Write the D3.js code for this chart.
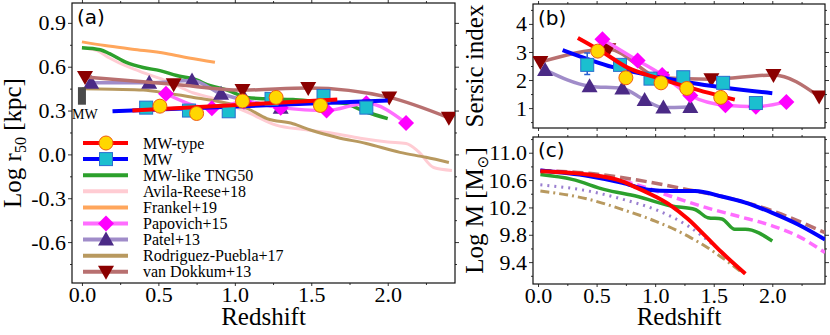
<!DOCTYPE html>
<html>
<head>
<meta charset="utf-8">
<script src="https://cdn.jsdelivr.net/npm/d3@7"></script>
<style>
  body { margin: 0; background: #fff; }
  text { font-family: "Liberation Serif", "Times New Roman", serif; fill: #000; }
</style>
</head>
<body>
<svg width="830" height="335"></svg>
<script>
// ---------- data: panel (a) Log r50 ----------
const mwTypeZ = [0.51, 0.75, 1.05, 1.27, 1.56];
const mwTypeR50 = [0.33, 0.28, 0.365, 0.39, 0.335];
const mwTypeFitZ = [0.33, 1.67];
const mwTypeFitR50 = [0.30, 0.375];

const mwZ = [0.42, 0.70, 0.96, 1.24, 1.58, 1.86];
const mwR50 = [0.32, 0.30, 0.295, 0.38, 0.40, 0.32];
const mwFitZ = [0.20, 2.00];
const mwFitR50 = [0.295, 0.368];

const tngZ = [0.0, 0.12, 0.18, 0.29, 0.40, 0.51, 0.62, 0.73, 0.84, 0.95, 1.08, 1.2, 1.38, 1.55, 1.71, 1.86, 2.0];
const tngR50 = [0.73, 0.716, 0.69, 0.63, 0.595, 0.573, 0.54, 0.516, 0.47, 0.44, 0.39, 0.38, 0.375, 0.36, 0.35, 0.29, 0.245];

const avilaZ = [0.0, 0.10, 0.18, 0.30, 0.40, 0.51, 0.62, 0.73, 0.84, 0.95, 1.10, 1.27, 1.45, 1.64, 1.82, 2.0, 2.12, 2.20, 2.30, 2.42];
const avilaR50 = [0.73, 0.71, 0.66, 0.60, 0.56, 0.52, 0.47, 0.42, 0.39, 0.345, 0.28, 0.20, 0.17, 0.145, 0.11, 0.085, 0.075, 0.02, -0.09, -0.11];

const frankelZ = [0.0, 0.15, 0.33, 0.55, 0.70, 0.87];
const frankelR50 = [0.77, 0.745, 0.72, 0.69, 0.66, 0.63];

const papZ = [0.55, 0.85, 1.06, 1.30, 1.60, 1.86, 2.12];
const papR50 = [0.415, 0.315, 0.36, 0.32, 0.30, 0.35, 0.215];

const patelZ = [0.06, 0.44, 0.72, 0.91, 1.07, 1.30];
const patelR50 = [0.49, 0.49, 0.505, 0.415, 0.37, 0.32];

const rpZ = [0.0, 0.2, 0.4, 0.55, 0.73, 0.9, 1.08, 1.21, 1.38, 1.5, 1.67, 1.86, 2.08, 2.25, 2.4];
const rpR50 = [0.45, 0.445, 0.44, 0.42, 0.39, 0.36, 0.315, 0.245, 0.21, 0.165, 0.116, 0.075, 0.014, -0.02, -0.055];

const vdZ = [0.02, 0.60, 1.05, 1.48, 2.01, 2.40];
const vdR50 = [0.53, 0.48, 0.44, 0.455, 0.39, 0.25];

const mwBarR50 = [0.34, 0.46];

// ---------- data: panel (b) Sersic index ----------
const mwTypeN = [3.03, 2.08, 1.90, 1.70, 1.38];
const mwTypeFitNZ = [0.34, 0.55, 0.76, 1.04, 1.30, 1.68];
const mwTypeFitN = [3.5, 3.0, 2.45, 2.05, 1.72, 1.30];
const mwN = [2.54, 2.54, 2.05, 2.10, 1.90, 1.18];
const mwNErr = [2.2, 2.96];
const mwFitNZ = [0.21, 0.64, 1.04, 1.30, 2.0];
const mwFitN = [3.07, 2.46, 2.10, 1.90, 1.53];
const papN = [3.45, 2.70, 2.18, 1.45, 1.10, 1.05, 1.22];
const patelN = [2.36, 1.78, 1.70, 1.29, 1.02, 1.04];
const vdN = [2.64, 3.10, 2.08, 2.03, 2.18, 1.41];

// ---------- data: panel (c) Log M ----------
const mRedZ = [0.02, 0.43, 0.72, 0.84, 1.0, 1.14, 1.28, 1.43, 1.57, 1.77];
const mRed = [10.73, 10.68, 10.58, 10.49, 10.36, 10.22, 10.03, 9.78, 9.54, 9.23];
const mBlueZ = [0.02, 0.43, 0.72, 0.94, 1.14, 1.34, 1.57, 1.77, 2.0, 2.22, 2.45];
const mBlue = [10.74, 10.66, 10.56, 10.46, 10.44, 10.44, 10.36, 10.27, 10.12, 9.95, 9.73];
const mVdZ = [0.02, 0.43, 0.85, 1.28, 1.57, 2.0, 2.45];
const mVd = [10.74, 10.70, 10.60, 10.46, 10.36, 10.15, 9.83];
const mPapZ = [0.02, 0.43, 0.85, 1.14, 1.43, 1.71, 2.0, 2.22, 2.45];
const mPap = [10.74, 10.68, 10.53, 10.36, 10.20, 10.07, 9.93, 9.78, 9.54];
const mTngZ = [0.02, 0.29, 0.57, 0.85, 1.14, 1.34, 1.45, 1.57, 1.68, 1.77, 2.0];
const mTng = [10.68, 10.61, 10.46, 10.36, 10.22, 10.17, 10.05, 10.03, 9.88, 9.88, 9.71];
const mPatelZ = [0.02, 0.43, 0.72, 1.0, 1.28, 1.49];
const mPatel = [10.53, 10.44, 10.32, 10.17, 9.93, 9.66];
const mRpZ = [0.02, 0.43, 0.72, 1.0, 1.28, 1.51, 1.74];
const mRp = [10.44, 10.32, 10.17, 10.0, 9.78, 9.54, 9.25];

// ---------- ticks / labels ----------
const zTicks = [0, 0.5, 1.0, 1.5, 2.0];
const r50Ticks = [-0.6, -0.3, 0.0, 0.3, 0.6, 0.9];
const nTicks = [1, 2, 3, 4];
const mTicks = [9.4, 9.8, 10.2, 10.6, 11.0];
const legendNames = ["MW-type", "MW", "MW-like TNG50", "Avila-Reese+18", "Frankel+19",
  "Papovich+15", "Patel+13", "Rodriguez-Puebla+17", "van Dokkum+13"];

const svg = d3.select("svg");
const zip = (a, b) => a.map((v, i) => [v, b[i]]);

// panel geometry
const A = { x0: 72, x1: 455, y0: 3, y1: 283 };
const B = { x0: 533, x1: 825, y0: 4, y1: 128 };
const C = { x0: 533, x1: 825, y0: 137, y1: 284 };

const xA = d3.scaleLinear().domain([-0.065, 2.44]).range([A.x0, A.x1]);
const yA = d3.scaleLinear().domain([-0.88, 1.036]).range([A.y1, A.y0]);
const xB = d3.scaleLinear().domain([-0.043, 2.45]).range([B.x0, B.x1]);
const yB = d3.scaleLinear().domain([0.29, 4.71]).range([B.y1, B.y0]);
const xC = d3.scaleLinear().domain([-0.043, 2.45]).range([C.x0, C.x1]);
const yC = d3.scaleLinear().domain([9.08, 11.23]).range([C.y1, C.y0]);

const midpoints = (t, lo, hi) => {
  const step = t[1] - t[0], out = [];
  for (let v = t[0] - step / 2; v <= hi; v += step / 2) if (v >= lo) out.push(+v.toFixed(4));
  return out.filter(v => !t.some(m => Math.abs(m - v) < 1e-6));
};

function axes(P, x, y, xt, yt, xLabels, fmtY) {
  const g = svg.append("g");
  const xm = midpoints(xt, x.domain()[0], x.domain()[1]);
  const ym = midpoints(yt, y.domain()[0], y.domain()[1]);
  const tick = (sel) => { sel.select(".domain").remove(); sel.selectAll("line").attr("stroke", "#333"); };
  const fmtX = xLabels ? (d => d.toFixed(1)) : "";
  g.append("g").attr("transform", `translate(0,${P.y1})`)
    .call(d3.axisBottom(x).tickValues(xt).tickSize(3).tickPadding(0).tickFormat(fmtX)).call(tick);
  g.append("g").attr("transform", `translate(0,${P.y1})`)
    .call(d3.axisBottom(x).tickValues(xm).tickSize(2).tickFormat("")).call(tick);
  g.append("g").attr("transform", `translate(0,${P.y0})`)
    .call(d3.axisTop(x).tickValues(xt).tickSize(3).tickFormat("")).call(tick);
  g.append("g").attr("transform", `translate(0,${P.y0})`)
    .call(d3.axisTop(x).tickValues(xm).tickSize(2).tickFormat("")).call(tick);
  g.append("g").attr("transform", `translate(${P.x0},0)`)
    .call(d3.axisLeft(y).tickValues(yt).tickSize(4).tickPadding(2).tickFormat(fmtY)).call(tick);
  g.append("g").attr("transform", `translate(${P.x0},0)`)
    .call(d3.axisLeft(y).tickValues(ym).tickSize(2).tickFormat("")).call(tick);
  g.append("g").attr("transform", `translate(${P.x1},0)`)
    .call(d3.axisRight(y).tickValues(yt).tickSize(4).tickFormat("")).call(tick);
  g.append("g").attr("transform", `translate(${P.x1},0)`)
    .call(d3.axisRight(y).tickValues(ym).tickSize(2).tickFormat("")).call(tick);
  g.selectAll("text").style("font-size", "22px")
    .style("font-family", "'Liberation Serif', serif");
  g.append("rect").attr("x", P.x0).attr("y", P.y0)
    .attr("width", P.x1 - P.x0).attr("height", P.y1 - P.y0)
    .attr("fill", "none").attr("stroke", "#111").attr("stroke-width", 1.2);
}

// clip paths per panel
function clip(id, P) {
  svg.append("clipPath").attr("id", id).append("rect")
    .attr("x", P.x0).attr("y", P.y0).attr("width", P.x1 - P.x0).attr("height", P.y1 - P.y0);
  return svg.append("g").attr("clip-path", `url(#${id})`);
}

// marker shapes
const shapes = {
  circle: (g, cx, cy) => g.append("circle").attr("cx", cx).attr("cy", cy).attr("r", 7)
    .attr("fill", "#ffd700").attr("stroke", "#f05a10").attr("stroke-width", 1),
  square: (g, cx, cy) => g.append("rect").attr("x", cx - 6.5).attr("y", cy - 6.5)
    .attr("width", 13).attr("height", 13)
    .attr("fill", "#1bbfcf").attr("stroke", "#2a6fd0").attr("stroke-width", 1),
  diamond: (g, cx, cy) => g.append("path")
    .attr("d", `M${cx},${cy - 8}L${cx + 8},${cy}L${cx},${cy + 8}L${cx - 8},${cy}Z`)
    .attr("fill", "#ff00ff"),
  up: (g, cx, cy) => g.append("path")
    .attr("d", `M${cx},${cy - 8}L${cx + 8},${cy + 6}L${cx - 8},${cy + 6}Z`)
    .attr("fill", "#4b2a86"),
  down: (g, cx, cy) => g.append("path")
    .attr("d", `M${cx},${cy + 8}L${cx + 8},${cy - 6}L${cx - 8},${cy - 6}Z`)
    .attr("fill", "#8b0000")
};

function line(g, x, y, zs, vs, color, width, dash) {
  const p = g.append("path").datum(zip(zs, vs))
    .attr("fill", "none").attr("stroke", color).attr("stroke-width", width)
    .attr("stroke-linejoin", "round")
    .attr("d", d3.line().x(d => x(d[0])).y(d => y(d[1])).curve(d3.curveMonotoneX));
  if (dash) p.attr("stroke-dasharray", dash);
  return p;
}
function marks(g, x, y, zs, vs, shape) {
  zs.forEach((z, i) => shapes[shape](g, x(z), y(vs[i])));
}

const col = {
  red: "#ff0000", blue: "#0000ff", green: "#2ca02c", pink: "#ffccd3", orange: "#ffa65c",
  pap: "#ff6dff", patel: "#a08cc9", rp: "#b8995f", vd: "#b87070"
};

// ---------- panel (a) ----------
axes(A, xA, yA, zTicks, r50Ticks, true, d => d.toFixed(1));
const ga = clip("clipA", A);
line(ga, xA, yA, avilaZ, avilaR50, col.pink, 3);
line(ga, xA, yA, frankelZ, frankelR50, col.orange, 3);
line(ga, xA, yA, rpZ, rpR50, col.rp, 3);
line(ga, xA, yA, tngZ, tngR50, col.green, 3.5);
line(ga, xA, yA, patelZ, patelR50, col.patel, 3.5);
marks(ga, xA, yA, patelZ, patelR50, "up");
line(ga, xA, yA, vdZ, vdR50, col.vd, 3.5);
marks(ga, xA, yA, vdZ, vdR50, "down");
line(ga, xA, yA, papZ, papR50, col.pap, 3.5);
marks(ga, xA, yA, papZ, papR50, "diamond");
line(ga, xA, yA, mwFitZ, mwFitR50, col.blue, 4);
marks(ga, xA, yA, mwZ, mwR50, "square");
line(ga, xA, yA, mwTypeFitZ, mwTypeFitR50, col.red, 4);
marks(ga, xA, yA, mwTypeZ, mwTypeR50, "circle");

// MW reference bar
ga.append("rect").attr("x", xA(0) - 4).attr("y", yA(mwBarR50[1]))
  .attr("width", 8).attr("height", yA(mwBarR50[0]) - yA(mwBarR50[1]))
  .attr("fill", "#4a4a4a");
svg.append("text").attr("x", xA(0) + 3).attr("y", yA(mwBarR50[0]) + 14)
  .attr("text-anchor", "middle").attr("font-size", 14).text("MW");

svg.append("text").attr("x", A.x0 + 5).attr("y", A.y0 + 21)
  .style("font-family", "DejaVu Sans, sans-serif").attr("font-size", 20).text("(a)");

// legend
const legendStyle = [
  { c: col.red, m: "circle" }, { c: col.blue, m: "square" }, { c: col.green },
  { c: col.pink }, { c: col.orange }, { c: col.pap, m: "diamond" },
  { c: col.patel, m: "up" }, { c: col.rp }, { c: col.vd, m: "down" }
];
const lg = svg.append("g");
legendNames.forEach((name, i) => {
  const y = 143 + i * 16.1;
  const s = legendStyle[i];
  lg.append("line").attr("x1", 83).attr("x2", 128).attr("y1", y).attr("y2", y)
    .attr("stroke", s.c).attr("stroke-width", 4);
  if (s.m) shapes[s.m](lg, 106, y);
  lg.append("text").attr("x", 143).attr("y", y).attr("dy", "0.35em")
    .attr("font-size", 16).text(name);
});

// axis labels (a)
const ylabA = svg.append("text").attr("transform", "translate(21,143) rotate(-90)")
  .attr("text-anchor", "middle").attr("font-size", 25);
ylabA.append("tspan").text("Log r");
ylabA.append("tspan").attr("font-size", 16).attr("dy", 5).text("50");
ylabA.append("tspan").attr("dy", -5).text(" [kpc]");
svg.append("text").attr("x", (A.x0 + A.x1) / 2).attr("y", 325)
  .attr("text-anchor", "middle").attr("font-size", 25).text("Redshift");

// ---------- panel (b) ----------
axes(B, xB, yB, zTicks, nTicks, false, d => d.toFixed(0));
const gb = clip("clipB", B);
line(gb, xB, yB, vdZ, vdN, col.vd, 3.5);
marks(gb, xB, yB, vdZ, vdN, "down");
line(gb, xB, yB, patelZ, patelN, col.patel, 3.5);
marks(gb, xB, yB, patelZ, patelN, "up");
line(gb, xB, yB, papZ, papN, col.pap, 3.5);
marks(gb, xB, yB, papZ, papN, "diamond");
line(gb, xB, yB, mwFitNZ, mwFitN, col.blue, 4);
// error bar on first MW point
const ex = xB(mwZ[0]);
gb.append("path")
  .attr("d", `M${ex},${yB(mwNErr[0])}V${yB(mwNErr[1])}M${ex - 3},${yB(mwNErr[0])}H${ex + 3}M${ex - 3},${yB(mwNErr[1])}H${ex + 3}`)
  .attr("stroke", "#2a5fd0").attr("stroke-width", 1.5).attr("fill", "none");
marks(gb, xB, yB, mwZ, mwN, "square");
line(gb, xB, yB, mwTypeFitNZ, mwTypeFitN, col.red, 4);
marks(gb, xB, yB, mwTypeZ, mwTypeN, "circle");

svg.append("text").attr("x", B.x0 + 5).attr("y", B.y0 + 21)
  .style("font-family", "DejaVu Sans, sans-serif").attr("font-size", 20).text("(b)");
svg.append("text").attr("transform", `translate(483,${(B.y0 + B.y1) / 2}) rotate(-90)`)
  .attr("text-anchor", "middle").attr("font-size", 25).text("Sersic index");

// ---------- panel (c) ----------
axes(C, xC, yC, zTicks, mTicks, true, d => d.toFixed(1));
const gc = clip("clipC", C);
line(gc, xC, yC, mRpZ, mRp, col.rp, 3, "9,4,2,4");
line(gc, xC, yC, mPatelZ, mPatel, "#9a7fd0", 3, "2,5");
line(gc, xC, yC, mTngZ, mTng, col.green, 3.5);
line(gc, xC, yC, mPapZ, mPap, col.pap, 3.5, "9,5");
line(gc, xC, yC, mVdZ, mVd, col.vd, 3.5, "11,5");
line(gc, xC, yC, mBlueZ, mBlue, col.blue, 4);
line(gc, xC, yC, mRedZ, mRed, col.red, 4);

svg.append("text").attr("x", C.x0 + 5).attr("y", C.y0 + 20)
  .style("font-family", "DejaVu Sans, sans-serif").attr("font-size", 20).text("(c)");
const ylabC = svg.append("text").attr("transform", `translate(483,${(C.y0 + C.y1) / 2}) rotate(-90)`)
  .attr("text-anchor", "middle").attr("font-size", 25);
ylabC.append("tspan").text("Log M [M");
ylabC.append("tspan").attr("font-size", 15).attr("dy", 5).style("font-family", "DejaVu Sans, sans-serif").text("\u2299");
ylabC.append("tspan").attr("dy", -5).text("]");
svg.append("text").attr("x", (C.x0 + C.x1) / 2).attr("y", 325)
  .attr("text-anchor", "middle").attr("font-size", 25).text("Redshift");
</script>
</body>
</html>
